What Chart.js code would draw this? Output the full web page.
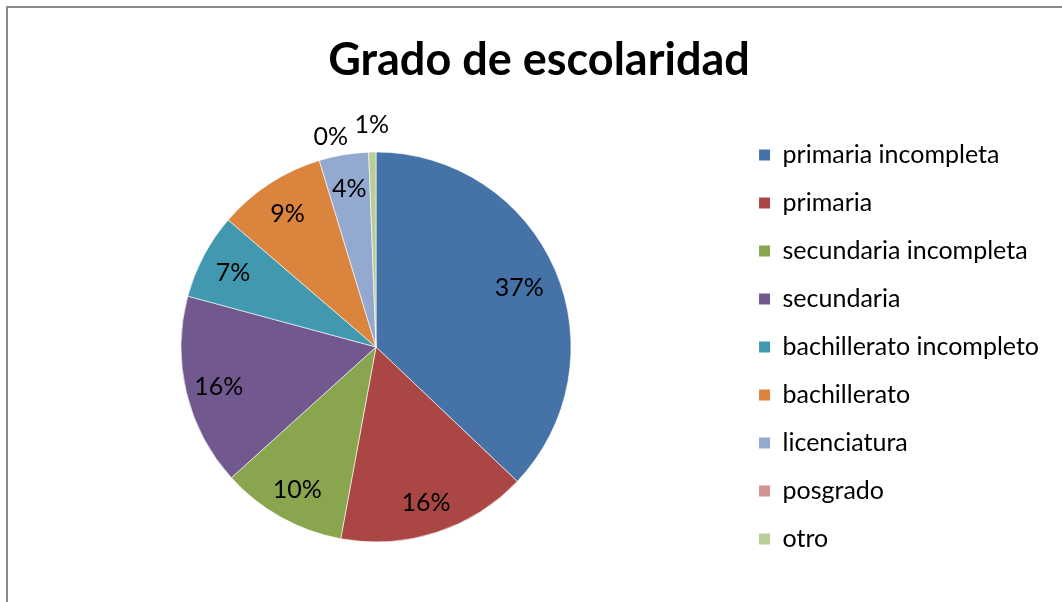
<!DOCTYPE html>
<html>
<head>
<meta charset="utf-8">
<script src="https://cdn.jsdelivr.net/npm/chart.js@4.4.1/dist/chart.umd.min.js"></script>
<style>
  body { margin: 0; background: #fff; overflow: hidden; }
  #frame { position: absolute; left: 6px; top: 6px; width: 1100px; height: 700px;
           border-top: 2px solid #8a8a8a; border-left: 2px solid #8a8a8a; }
  #pieChart { position: absolute; left: 0; top: 0; }
</style>
</head>
<body>
<div id="frame"></div>
<canvas id="pieChart" width="1062" height="602"></canvas>
<script>
// Data (share of each level, in %)
const chartLabels = [
  "primaria incompleta", "primaria", "secundaria incompleta", "secundaria",
  "bachillerato incompleto", "bachillerato", "licenciatura", "posgrado", "otro"
];
const chartData = [37.1, 15.8, 10.4, 15.9, 7.1, 9.0, 4.1, 0, 0.6];
const chartColors = [
  "#4572A7", "#AA4643", "#89A54E", "#71588F",
  "#4198AF", "#DB843D", "#93A9CF", "#D19392", "#B9CD96"
];

const FONT = "Lato";

// Percent labels: inside the slice, or outside above it when the slice is tiny
const percentLabels = {
  id: "percentLabels",
  afterDatasetsDraw(chart) {
    const ctx = chart.ctx;
    const meta = chart.getDatasetMeta(0);
    const data = chart.data.datasets[0].data;
    const total = data.reduce((a, b) => a + b, 0);
    const placed = [];
    ctx.save();
    ctx.font = "25px " + FONT;
    ctx.fillStyle = "#000";
    ctx.textAlign = "center";
    ctx.textBaseline = "middle";
    for (let i = meta.data.length - 1; i >= 0; i--) {
      const arc = meta.data[i];
      const pct = Math.round((data[i] / total) * 100);
      const text = pct + "%";
      const w = ctx.measureText(text).width;
      let mid = (arc.startAngle + arc.endAngle) / 2;
      if (data[i] / total >= 0.02) {
        const r = arc.outerRadius * (data[i] / total > 0.3 ? 0.8 : 0.83);
        ctx.fillText(text, arc.x + Math.cos(mid) * r, arc.y + Math.sin(mid) * r + 2);
        continue;
      }
      let r = arc.outerRadius * 1.14;
      let x, y;
      for (let step = 0; step < 60; step++) {
        x = arc.x + Math.cos(mid) * r;
        y = arc.y + Math.sin(mid) * r;
        const hit = placed.some(p => Math.abs(p.x - x) < (p.w + w) / 2 + 6 && Math.abs(p.y - y) < 24);
        if (!hit) break;
        mid -= Math.PI / 180;
        r = arc.outerRadius * 1.1;
      }
      placed.push({ x, y, w });
      ctx.fillText(text, x, y);
    }
    ctx.restore();
  }
};

// Give the legend a bit more room on its right, like the original
const legendRoom = {
  id: "legendRoom",
  beforeInit(chart) {
    const fit = chart.legend.fit;
    chart.legend.fit = function () {
      fit.call(this);
      this.width += 13;
    };
  }
};

const ctx = document.getElementById("pieChart").getContext("2d");
new Chart(ctx, {
  type: "pie",
  data: {
    labels: chartLabels,
    datasets: [{
      data: chartData,
      backgroundColor: chartColors,
      borderColor: "rgba(255,255,255,0.6)",
      borderWidth: 1,
      hoverOffset: 0,
      radius: 195
    }]
  },
  options: {
    responsive: false,
    animation: false,
    layout: { padding: { left: 16, right: 0, top: 10, bottom: 20 } },
    plugins: {
      tooltip: { enabled: false },
      title: {
        display: true,
        text: "Grado de escolaridad",
        color: "#000",
        font: { family: FONT, size: 45, weight: "bold" },
        padding: { top: 23, bottom: 25 }
      },
      legend: {
        display: true,
        position: "right",
        fullSize: false,
        labels: {
          boxWidth: 11,
          boxHeight: 11,
          padding: 23,
          color: "#000",
          font: { family: FONT, size: 25 },
          generateLabels(chart) {
            const items = Chart.overrides.pie.plugins.legend.labels.generateLabels(chart);
            items.forEach(it => { it.lineWidth = 0; });
            return items;
          }
        }
      }
    }
  },
  plugins: [legendRoom, percentLabels]
});
</script>
</body>
</html>
